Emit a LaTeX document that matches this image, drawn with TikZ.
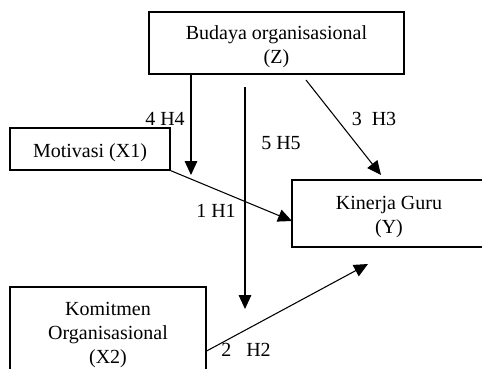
\documentclass[tikz,border=0pt]{standalone}
\usepackage{fontspec}
\setmainfont{Liberation Serif}
\usetikzlibrary{arrows.meta,positioning}
\newcommand{\dn}[1]{\raisebox{-2.5pt}[\height][\depth]{#1}}

\begin{document}
\begin{tikzpicture}[x=0.75pt,y=-0.75pt,
   var/.style={draw,line width=0.9pt,align=center,inner sep=0pt,
     font=\fontsize{15}{18}\selectfont},
   hyp/.style={font=\fontsize{15}{18}\selectfont,inner sep=0pt},
   path/.style={-{Triangle[length=10.5pt,width=9.5pt]},line width=0.8pt}]
   \useasboundingbox (0,0) rectangle (482,368);
   \clip (0,0) rectangle (482,368);
   \node[var,minimum width=191.25pt,minimum height=46.5pt] (z)   at (276.5,43)  {\dn{Budaya organisasional}\\\dn{(Z)}};
   \node[var,minimum width=120pt,minimum height=31.5pt]    (x1)  at (90,149)    {\dn{Motivasi (X1)}};
   \node[var,minimum width=145.5pt,minimum height=50.25pt] (y)   at (389,213.5) {\dn{Kinerja Guru}\\\dn{(Y)}};
   \node[var,minimum width=147pt,minimum height=67.5pt]    (x2)  at (108,332)   {\dn{Komitmen}\\\dn{Organisasional}\\\dn{(X2)}};
   % free ends
   \coordinate (h4end) at (191,175);
   \coordinate (h5top) at (245,87);
   \coordinate (h5end) at (245,309);
   \coordinate (h3top) at (306,80);
   \coordinate (h3end) at (381,175);
   \coordinate (h1end) at (292,221);
   \coordinate (h2end) at (368,264);
   \draw[path] (z.south -| h4end) -- (h4end);
   \draw[path] (h5top) -- (h5end);
   \draw[path] (h3top) -- (h3end);
   \draw[path] (x1.south east) -- (h1end);
   \draw[path] (x2.east |- 0,351) -- (h2end);
   % labels
   \node[hyp] (l4) at (165,119) {4 H4};
   \node[hyp] (l5) at (281,143) {5 H5};
   \node[hyp] (l3) at (374,119) {3\ \ H3};
   \node[hyp] (l1) at (216,211) {1 H1};
   \node[hyp] (l2) at (246,350) {2\ \ \ H2};
\end{tikzpicture}
\end{document}
